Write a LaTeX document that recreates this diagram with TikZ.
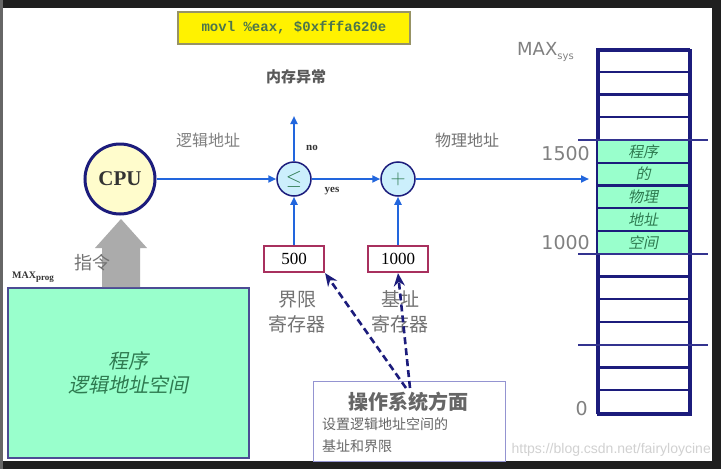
\documentclass[tikz,border=0pt]{standalone}
\usepackage{fontspec}
\setmainfont{Liberation Serif}
\newfontfamily\cjk{Noto Sans CJK SC}
\newfontfamily\cjkit[FakeSlant=0.2]{Noto Sans CJK SC}
\newfontfamily\dv{DejaVu Sans}
\newfontfamily\mono{Liberation Mono}
\newfontfamily\lsans{Liberation Sans}
\usetikzlibrary{arrows.meta}
\definecolor{navy}{HTML}{1C1C7C}
\definecolor{flow}{HTML}{2266DD}
\definecolor{regc}{HTML}{A8305E}
\definecolor{aqua}{HTML}{99FFCC}
\definecolor{txtgray}{HTML}{6A6A6A}
\definecolor{dgreen}{HTML}{2E7A50}
\tikzset{
  flowarrow/.style={draw=flow, line width=2pt, -{Triangle[length=8pt,width=7pt]}},
  opcircle/.style={circle, draw=navy, line width=1.5pt, fill=cyan!20, minimum size=34pt, inner sep=0pt},
  regbox/.style={draw=regc, line width=2.2pt, fill=white, minimum width=60pt, minimum height=26pt, inner sep=0pt, font=\fontsize{17}{17}\selectfont},
  graylabel/.style={text=txtgray, inner sep=0pt, align=center},
  osarrow/.style={draw=navy, line width=2.6pt, dash pattern=on 7pt off 4pt, -{Stealth[length=13pt,width=11pt]}},
  memrow/.style={draw=navy, line width=2.2pt},
}
\begin{document}
\begin{tikzpicture}[x=1pt,y=-1pt]
\useasboundingbox (0,0) rectangle (721,469);
% background and screen frame
\fill[white] (0,0) rectangle (721,469);
\fill[black!88] (0,0) rectangle (721,8);
\fill[black!88] (0,461) rectangle (721,469);
\fill[black!88] (712,0) rectangle (721,469);
\fill[black!60] (0,0) rectangle (3,469);

% instruction box
\node[draw=black!45!yellow!60!gray, line width=1.2pt, fill=yellow, minimum width=232pt, minimum height=32pt, inner sep=0pt,
      font=\mono\bfseries\fontsize{14}{14}\selectfont, text=black!60!green!40!gray] (instr) at (294,28) {movl \%eax, \$0xfffa620e};

\node[graylabel, text=black!65, font=\cjk\bfseries\fontsize{15}{15}\selectfont] (exc) at (296,77) {内存异常};
\node[graylabel, text=black!50, font=\cjk\fontsize{16}{16}\selectfont] (logaddr) at (208,140) {逻辑地址};
\node[graylabel, text=black!55, font=\cjk\fontsize{16}{16}\selectfont] (phyaddr) at (467,140) {物理地址};

% CPU
\node[circle, draw=navy, line width=3pt, fill=yellow!20, minimum size=70pt, inner sep=0pt,
      font=\bfseries\fontsize{21}{21}\selectfont, text=black!80] (cpu) at (120,179) {CPU};
% comparators
\node[opcircle, font=\fontsize{22}{22}\selectfont, text=dgreen] (cmp) at (294,179) {$\leq$};
\node[opcircle, font=\fontsize{22}{22}\selectfont, text=dgreen] (add) at (398,179) {$+$};
\coordinate (excpt) at (294,116);

% registers
\node[regbox] (lim) at (294,259) {500};
\node[regbox] (base) at (398,259) {1000};
\node[graylabel, font=\cjk\fontsize{19}{25}\selectfont, text=black!55] (limtxt) at (297,312) {界限\\寄存器};
\node[graylabel, font=\cjk\fontsize{19}{25}\selectfont, text=black!55] (basetxt) at (400,312) {基址\\寄存器};

% memory column
\node[draw=navy, line width=2.5pt, minimum width=92pt, minimum height=364pt, inner sep=0pt, anchor=north west] (mem) at (597,49) {};
\foreach \i in {4,...,8} {
  \fill[aqua] (597,{49+\i*22.75}) rectangle (689,{49+(\i+1)*22.75});
}
\foreach \i in {1,...,15} {
  \draw[memrow] (597,{49+\i*22.75}) -- (689,{49+\i*22.75});
}
\draw[navy, line width=2.5pt] (597,49) rectangle (689,413);
\foreach \i/\t in {4/程序,5/的,6/物理,7/地址,8/空间} {
  \node[inner sep=0pt, text=dgreen, font=\cjkit\fontsize{15}{15}\selectfont] (m\i) at (643,{49+(\i+0.5)*22.75}) {\t};
}
\foreach \yy in {140,253.75,344.75} {
  \draw[black!40!blue!60!gray, line width=1.5pt] (578,\yy) -- (708,\yy);
}
\node[graylabel, anchor=south west, font=\dv\fontsize{18}{18}\selectfont, text=black!50] (maxsys) at (517,62) {MAX\raisebox{-4pt}{\fontsize{10}{10}\selectfont sys}};
\node[graylabel, anchor=east, font=\dv\fontsize{19}{19}\selectfont, text=black!50] (l1500) at (590,154) {1500};
\node[graylabel, anchor=east, font=\dv\fontsize{19}{19}\selectfont, text=black!50] (l1000) at (590,243) {1000};
\node[graylabel, anchor=east, font=\dv\fontsize{19}{19}\selectfont, text=black!50] (l0) at (588,409) {0};
\coordinate (memin) at (589,179);

% flow arrows
\draw[flowarrow] (cpu) -- (cmp);
\draw[flowarrow] (cmp) -- (excpt);
\draw[flowarrow] (cmp) -- (add);
\draw[flowarrow] (add) -- (memin);
\draw[flowarrow] (lim) -- (cmp);
\draw[flowarrow] (base) -- (add);
\node[inner sep=0pt, font=\bfseries\fontsize{11}{11}\selectfont, text=black!80] (no) at (312,148) {no};
\node[inner sep=0pt, font=\bfseries\fontsize{11}{11}\selectfont, text=black!80] (yes) at (332,191) {yes};

% program logical space
\node[draw=black!30!blue!40!gray, line width=2pt, fill=aqua, minimum width=241pt, minimum height=170pt, inner sep=0pt, anchor=north west,
      align=center, font=\cjkit\fontsize{20}{24}\selectfont, text=dgreen] (prog) at (7,287) {程序\\逻辑地址空间};
\node[inner sep=0pt, anchor=west, font=\bfseries\fontsize{10}{10}\selectfont, text=black!80] (maxprog) at (12,277) {MAX\raisebox{-2pt}{\fontsize{9}{9}\selectfont prog}};
\fill[black!33] (102,287) -- (102,248) -- (95,248) -- (121,219) -- (147,248) -- (140,248) -- (140,287) -- cycle;
\coordinate (instrarrow) at (121,287);
\node[graylabel, font=\cjk\fontsize{18}{18}\selectfont, text=black!55] (instrtxt) at (92,263) {指令};

% OS box
\node[draw=blue!40!gray!60, line width=1.3pt, fill=white, minimum width=192pt, minimum height=80pt, inner sep=0pt, anchor=north west] (os) at (313,381) {};
\node[graylabel, font=\cjk\bfseries\fontsize{20}{20}\selectfont, text=black!60] (ostitle) at (408,402) {操作系统方面};
\node[graylabel, anchor=north west, align=left, font=\cjk\fontsize{14}{22}\selectfont, text=black!60] (ostxt) at (322,417) {设置逻辑地址空间的\\基址和界限};
\coordinate (osa) at (406,388);
\coordinate (osb) at (410,388);
\draw[osarrow] (osa) -- (lim.south east);
\draw[osarrow] (osb) -- (base.south);

% watermark
\node[inner sep=0pt, anchor=east, font=\lsans\fontsize{14}{14}\selectfont, text=black!18] (wm) at (711,450) {https://blog.csdn.net/fairyloycine};
\end{tikzpicture}
\end{document}
